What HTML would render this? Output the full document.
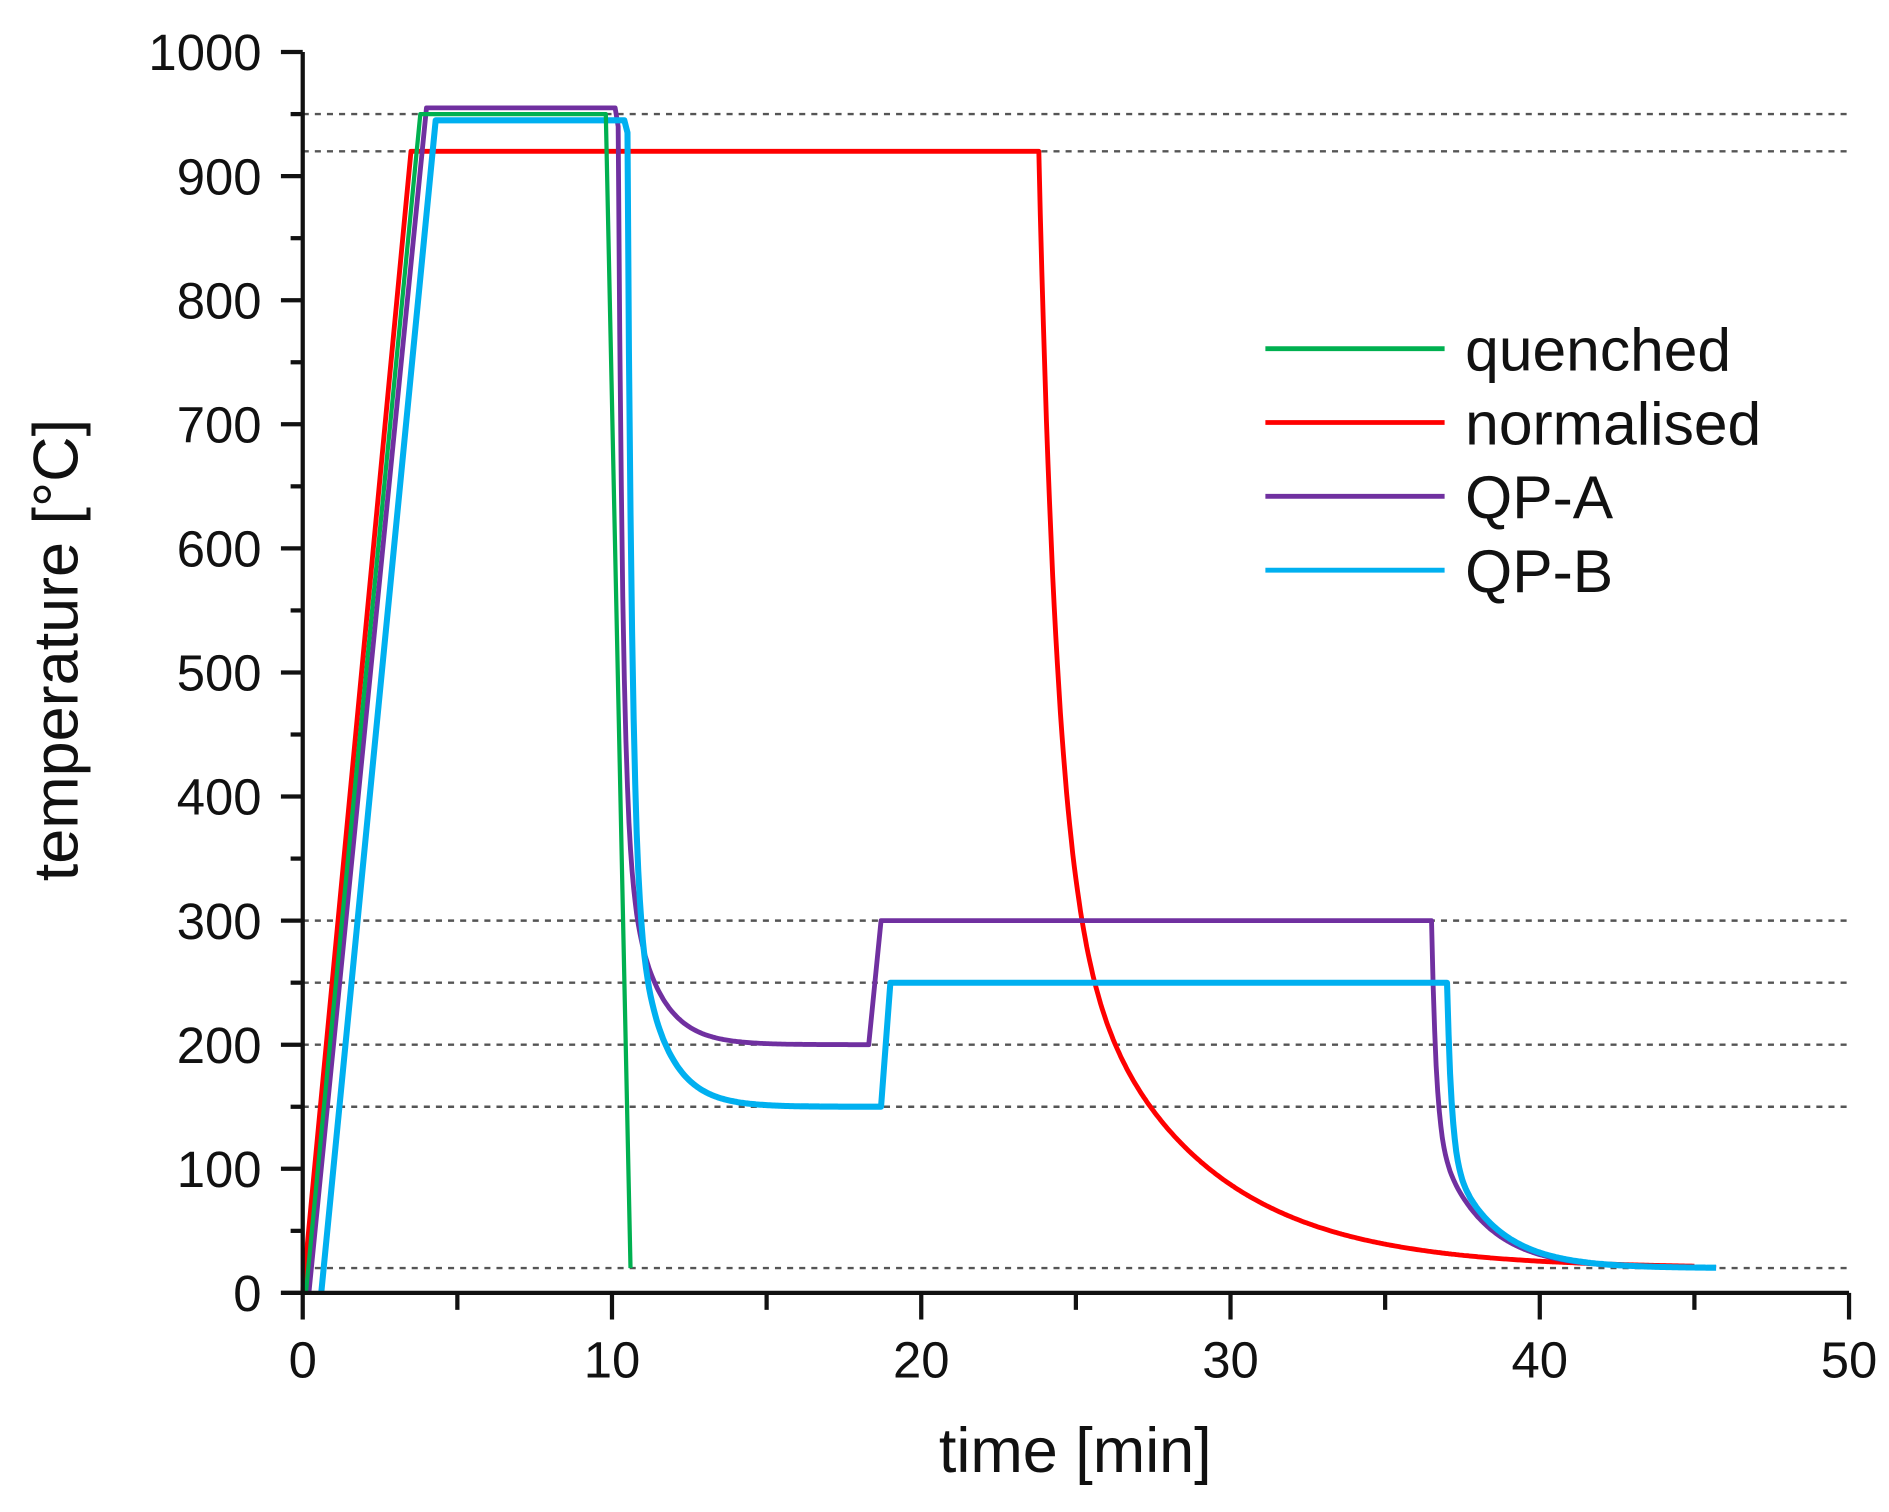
<!DOCTYPE html>
<html><head><meta charset="utf-8"><style>
html,body{margin:0;padding:0;background:#fff;}
svg{display:block;}
text{font-family:"Liberation Sans",sans-serif;fill:#111;}
</style></head><body>
<svg id="c" width="1889" height="1512" viewBox="0 0 1560 1249" preserveAspectRatio="none" xmlns="http://www.w3.org/2000/svg">
<g id="grid" stroke="#555" stroke-width="2" stroke-dasharray="5,5" fill="none"></g>
<g id="series" fill="none" stroke-width="4" stroke-linejoin="round"></g>
<g id="axes" stroke="#111" stroke-width="3.5" fill="none"></g>
<g id="labels" font-size="42"></g>
<text x="888" y="1216" font-size="52" text-anchor="middle">time [min]</text>
<text transform="translate(64,537) rotate(-90)" font-size="52" text-anchor="middle">temperature [°C]</text>
<g stroke-width="4">
<line x1="1045" y1="288" x2="1193" y2="288" stroke="#00b050"/>
<line x1="1045" y1="349" x2="1193" y2="349" stroke="#ff0000"/>
<line x1="1045" y1="410" x2="1193" y2="410" stroke="#7030a0"/>
<line x1="1045" y1="471" x2="1193" y2="471" stroke="#00b0f0"/>
</g>
<g font-size="50">
<text x="1210" y="306">quenched</text>
<text x="1210" y="367">normalised</text>
<text x="1210" y="428">QP-A</text>
<text x="1210" y="489">QP-B</text>
</g>
</svg>
<script>
var NS="http://www.w3.org/2000/svg";
function X(t){return 250+t*25.54;}
function Y(v){return 1068-v*1.025;}
function el(g,tag,a,txt){var e=document.createElementNS(NS,tag);for(var k in a)e.setAttribute(k,a[k]);if(txt!==undefined)e.textContent=txt;document.getElementById(g).appendChild(e);}
[950,920,300,250,200,150,20].forEach(function(v){el("grid","line",{x1:250,x2:1527,y1:Y(v),y2:Y(v)});});
el("axes","line",{x1:250,y1:Y(1000),x2:250,y2:1068});
el("axes","line",{x1:232,y1:1068,x2:1527,y2:1068});
for(var v=0;v<=1000;v+=50){var maj=v%100==0;el("axes","line",{x1:maj?232:240,x2:250,y1:Y(v),y2:Y(v)});
 if(maj)el("labels","text",{x:216,y:Y(v)+15,"text-anchor":"end"},String(v));}
for(var t=0;t<=50;t+=5){var maj=t%10==0;el("axes","line",{x1:X(t),x2:X(t),y1:1068,y2:maj?1090:1082});
 if(maj)el("labels","text",{x:X(t),y:1138,"text-anchor":"middle"},String(t));}
function path(pts,color,w){var d=pts.map(function(p,i){return (i?"L":"M")+X(p[0]).toFixed(1)+","+Y(p[1]).toFixed(1);}).join(" ");el("series","path",{d:d,stroke:color,"stroke-width":w||4});}
function cool(pts,t0,t1,T0,Tf,a,b,wa){for(var t=t0;t<=t1+1e-9;t+=0.05){var dt=t-t0;pts.push([t,Tf+(T0-Tf)*(wa*Math.exp(-dt/a)+(1-wa)*Math.exp(-dt/b))]);}}
var r=[[0,0],[3.5,920],[23.8,920]];
(function(){for(var t=23.8;t<=45;t+=0.05){var dt=t-23.8;r.push([t,20+583*Math.exp(-dt/0.6)+317*Math.exp(-dt/4)]);}})();
path(r,"#ff0000");
var a=[[0.2,0],[4.0,955],[10.1,955],[10.2,940]];
cool(a,10.2,18.3,940,200,0.15,0.9,0.75);
a.push([18.7,300],[36.5,300]);cool(a,36.5,45.7,300,20,0.15,1.5,0.6);
path(a,"#7030a0");
var b=[[0.6,0],[4.3,945],[10.4,945],[10.5,935]];
cool(b,10.5,18.7,935,150,0.15,0.9,0.75);
b.push([19.0,250],[37.0,250]);cool(b,37.0,45.7,250,20,0.15,1.5,0.6);
path(b,"#00b0f0",5);
path([[0.1,0],[3.8,950],[9.8,950],[10.6,20]],"#00b050",3.5);
</script>
</body></html>
